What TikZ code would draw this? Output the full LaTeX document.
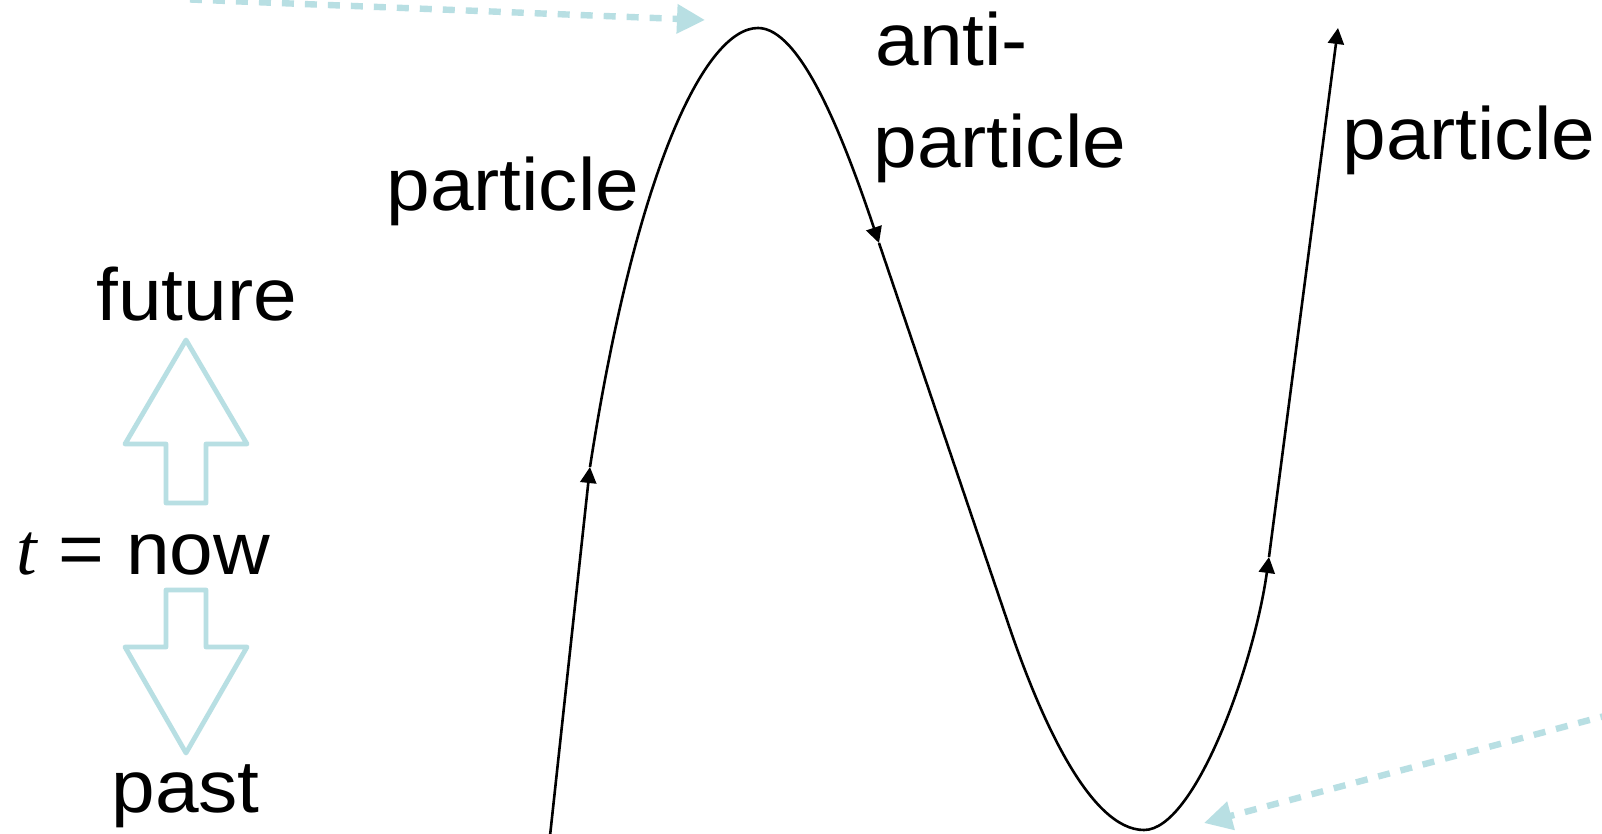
\documentclass[tikz,border=0pt]{standalone}
\usepackage{fontspec}
\setmainfont[FakeStretch=1.06]{Liberation Sans}
\newfontfamily\timefont{Liberation Serif}
\usepackage{xcolor}
\usetikzlibrary{arrows.meta}

\definecolor{paleteal}{RGB}{184,223,227}

\begin{document}
\begin{tikzpicture}[
  x=0.5pt, y=-0.5pt,
  words/.style={inner sep=0pt, anchor=base west, font=\fontsize{37}{44}\selectfont},
  worldline/.style={line width=1.3pt, black, line join=round},
  arrowend/.style={-{Triangle[length=8pt,width=8pt]}},
  timearrow/.style={draw=paleteal, line width=2.4pt, line join=round, fill=white},
  hint/.style={draw=paleteal, line width=3.2pt, dash pattern=on 6pt off 5.5pt,
    -{Triangle[length=14pt,width=14pt]}},
]
  \fill[white] (0,0) rectangle (1602,834);
  \useasboundingbox (0,0) rectangle (1602,834);

  % points along the world line
  \coordinate (start) at (550,836);
  \coordinate (rise) at (590,467);
  \coordinate (peak) at (758,28);
  \coordinate (fall) at (879,243);
  \coordinate (slide) at (1008,623);
  \coordinate (trough) at (1144,830);
  \coordinate (climb) at (1269,557);
  \coordinate (top) at (1338,28);

  \draw[worldline, arrowend] (start) -- (rise);
  \draw[worldline, arrowend] (rise) .. controls (636,170) and (705,28) .. (peak)
    .. controls (800,28) and (842,133) .. (fall);
  \draw[worldline, arrowend] (fall) -- (slide) .. controls (1040,718) and (1090,830) .. (trough)
    .. controls (1195,830) and (1254,665) .. (climb);
  \draw[worldline, arrowend] (climb) -- (top);

  % labels
  \node[words] (partleft) at (386,211) {particle};
  \node[words] (anti) at (875,66) {anti-};
  \node[words] (antipart) at (873,168) {particle};
  \node[words] (partright) at (1342,160) {particle};
  \node[words] (future) at (96,321) {future};
  \node[words] (now) at (16,574) {{\timefont\itshape t} = now};
  \node[words] (past) at (111,812) {past};

  % future / past arrows
  \draw[timearrow] (186,340) -- (247,444) -- (206,444) -- (206,503) -- (166,503)
    -- (166,444) -- (125,444) -- cycle;
  \draw[timearrow] (186,753) -- (247,647) -- (206,647) -- (206,590) -- (166,590)
    -- (166,647) -- (125,647) -- cycle;

  % pointers coming in from outside
  \coordinate (fromtop) at (190,-0.5);
  \coordinate (totop) at (705,20);
  \coordinate (fromside) at (1612,714);
  \coordinate (toside) at (1204,823);
  \draw[hint] (fromtop) -- (totop);
  \draw[hint] (fromside) -- (toside);
\end{tikzpicture}
\end{document}
